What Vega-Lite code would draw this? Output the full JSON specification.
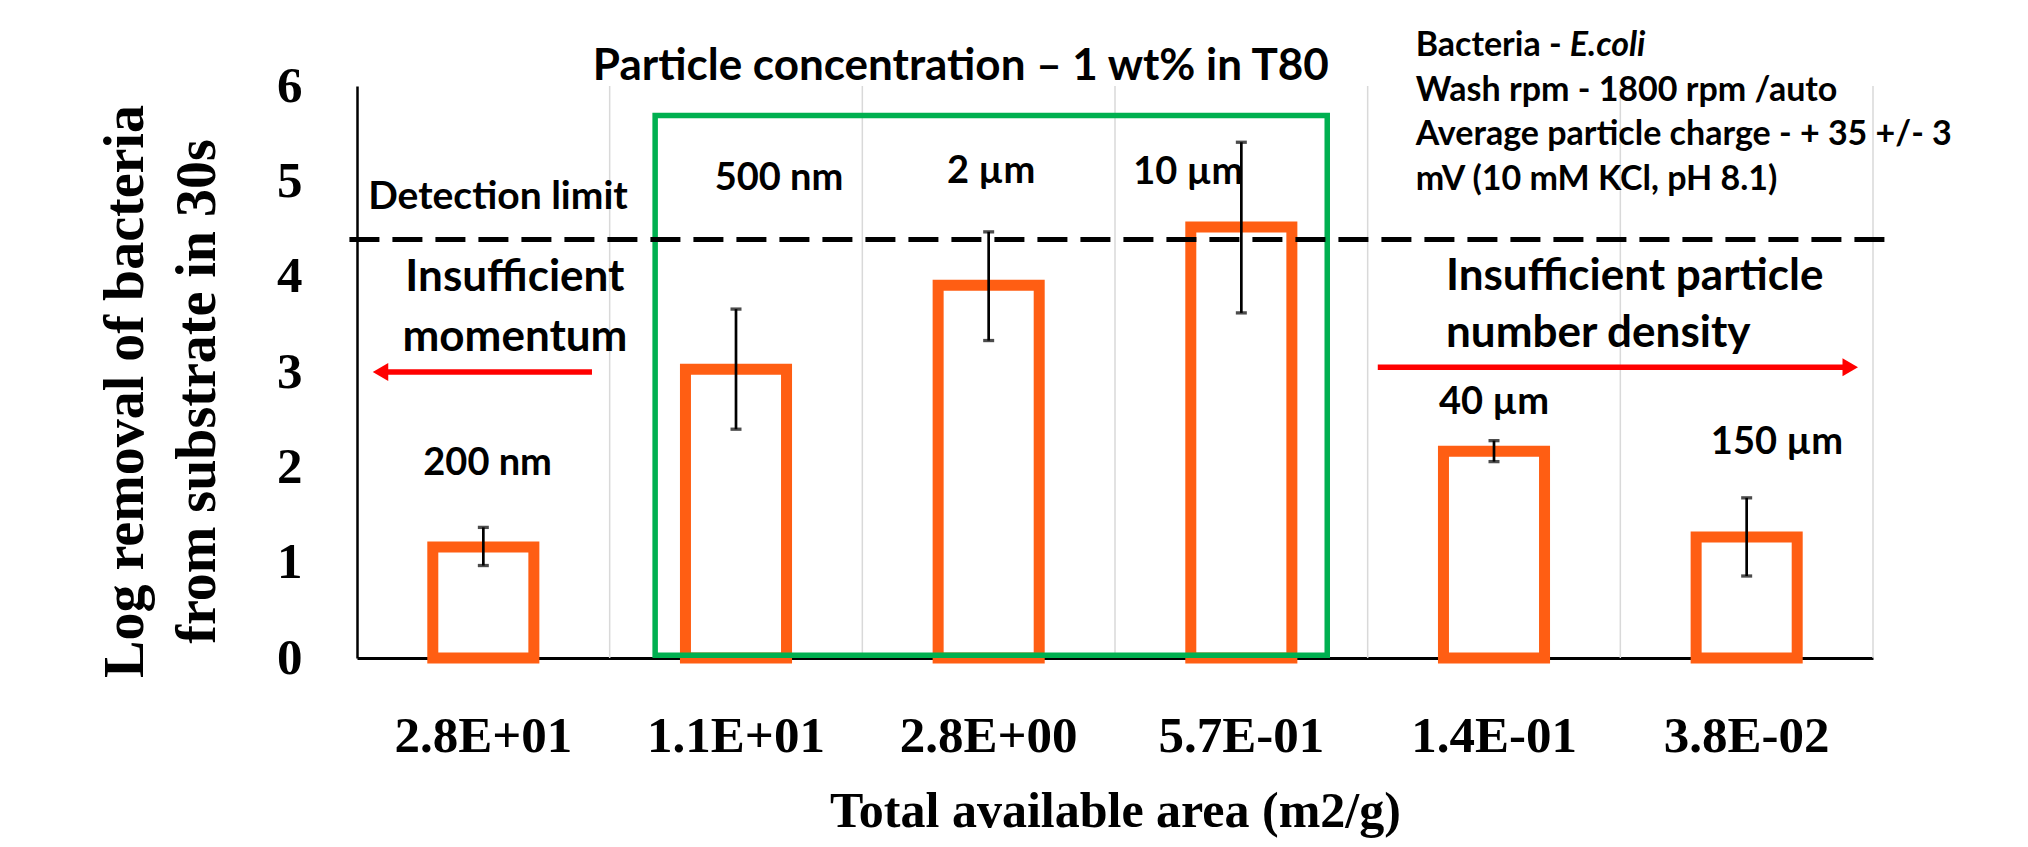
{
  "$schema": "https://vega.github.io/schema/vega-lite/v6.json",
  "width": 1516,
  "height": 572,
  "autosize": "none",
  "padding": {"left": 357, "top": 86, "right": 155, "bottom": 189},
  "background": "white",
  "config": {"view": {"stroke": null}, "font": "Lato"},
  "datasets": {
    "bars": [
      {"area": "2.8E+01", "removal": 1.165, "lo": 0.97, "hi": 1.37},
      {"area": "1.1E+01", "removal": 3.03, "lo": 2.40, "hi": 3.66},
      {"area": "2.8E+00", "removal": 3.91, "lo": 3.33, "hi": 4.47},
      {"area": "5.7E-01", "removal": 4.52, "lo": 3.62, "hi": 5.41},
      {"area": "1.4E-01", "removal": 2.17, "lo": 2.06, "hi": 2.28},
      {"area": "3.8E-02", "removal": 1.27, "lo": 0.86, "hi": 1.68}
    ],
    "grid": [{"g": 1}, {"g": 2}, {"g": 3}, {"g": 4}, {"g": 5}, {"g": 6}],
    "sizes": [
      {"label": "200 nm", "x": 0.517, "y": 2.03},
      {"label": "500 nm", "x": 1.67, "y": 5.02},
      {"label": "2 µm", "x": 2.51, "y": 5.10},
      {"label": "10 µm", "x": 3.29, "y": 5.09},
      {"label": "40 µm", "x": 4.50, "y": 2.68},
      {"label": "150 µm", "x": 5.62, "y": 2.26}
    ],
    "bigCentered": [
      {"label": "Particle concentration – 1 wt% in T80", "x": 2.39, "y": 6.20},
      {"label": "Insufficient", "x": 0.625, "y": 3.99},
      {"label": "momentum", "x": 0.625, "y": 3.36}
    ],
    "bigLeft": [
      {"label": "Insufficient particle", "x": 4.31, "y": 4.00},
      {"label": "number density", "x": 4.31, "y": 3.40}
    ],
    "detection": [{"label": "Detection limit", "x": 0.558, "y": 4.84}],
    "info": [
      {"label": "Bacteria -", "x": 4.19, "y": 6.42},
      {"label": "Wash rpm - 1800 rpm /auto", "x": 4.19, "y": 5.95},
      {"label": "Average particle charge - + 35 +/- 3", "x": 4.19, "y": 5.49},
      {"label": "mV (10 mM KCl, pH 8.1)", "x": 4.19, "y": 5.01}
    ],
    "infoItalic": [{"label": "E.coli", "x": 4.80, "y": 6.42}],
    "box": [{"x1": 1.18, "x2": 3.84, "y1": 0.03, "y2": 5.69}],
    "limit": [{"x1": -0.03, "x2": 6.09, "y": 4.39}],
    "shafts": [
      {"x1": 0.10, "x2": 0.93, "y": 3.00},
      {"x1": 4.04, "x2": 5.90, "y": 3.05}
    ],
    "headLeft": [{"x": 0.093, "y": 3.00}],
    "headRight": [{"x": 5.91, "y": 3.05}]
  },
  "layer": [
    {
      "data": {"name": "grid"},
      "mark": {"type": "rule", "color": "#D9D9D9", "strokeWidth": 1.5},
      "encoding": {
        "x": {"field": "g", "type": "quantitative", "scale": {"domain": [0, 6], "nice": false}, "axis": null}
      }
    },
    {
      "data": {"name": "bars"},
      "encoding": {
        "x": {
          "field": "area", "type": "nominal", "sort": null,
          "scale": {"paddingInner": 0, "paddingOuter": 0},
          "axis": {
            "orient": "bottom",
            "title": "Total available area (m2/g)",
            "labelFont": "Liberation Serif", "labelFontWeight": "bold", "labelFontSize": 51,
            "labelColor": "black", "labelAngle": 0, "labelBaseline": "middle", "labelPadding": 78,
            "ticks": false, "domainColor": "black", "domainWidth": 3, "grid": false,
            "titleFont": "Liberation Serif", "titleFontWeight": "bold", "titleFontSize": 50,
            "titleColor": "black", "titleBaseline": "middle", "titleY": 153
          }
        }
      },
      "layer": [
        {
          "mark": {"type": "bar", "width": {"band": 0.4}, "fill": "white", "stroke": "#FF5E13", "strokeWidth": 11},
          "encoding": {
            "y": {
              "field": "removal", "type": "quantitative",
              "scale": {"domain": [0, 6], "nice": false},
              "axis": {
                "orient": "left",
                "title": ["Log removal of bacteria", "from substrate in 30s"],
                "values": [0, 1, 2, 3, 4, 5, 6],
                "format": "d",
                "labelFont": "Liberation Serif", "labelFontWeight": "bold", "labelFontSize": 51,
                "labelColor": "black", "labelPadding": 55, "labelBaseline": "middle",
                "ticks": false, "domainColor": "black", "domainWidth": 2.5, "grid": false,
                "titleFont": "Liberation Serif", "titleFontWeight": "bold", "titleFontSize": 56,
                "titleColor": "black", "titleLineHeight": 72, "titleX": -232, "titleY": 305,
                "titleAngle": -90, "titleAlign": "center", "titleBaseline": "middle"
              }
            }
          }
        },
        {
          "mark": {"type": "rule", "color": "black", "strokeWidth": 2.7},
          "encoding": {
            "y": {"field": "lo", "type": "quantitative", "scale": {"domain": [0, 6], "nice": false}, "axis": null},
            "y2": {"field": "hi"}
          }
        },
        {
          "mark": {"type": "tick", "color": "black", "thickness": 3.3, "size": 11},
          "encoding": {
            "y": {"field": "lo", "type": "quantitative", "scale": {"domain": [0, 6], "nice": false}, "axis": null}
          }
        },
        {
          "mark": {"type": "tick", "color": "black", "thickness": 3.3, "size": 11},
          "encoding": {
            "y": {"field": "hi", "type": "quantitative", "scale": {"domain": [0, 6], "nice": false}, "axis": null}
          }
        }
      ],
      "resolve": {"scale": {"y": "independent"}}
    },
    {
      "layer": [
        {
          "data": {"name": "box"},
          "mark": {"type": "rect", "filled": false, "color": "#00B050", "strokeWidth": 5.5},
          "encoding": {
            "x": {"field": "x1", "type": "quantitative", "scale": {"domain": [0, 6], "nice": false}, "axis": null},
            "x2": {"field": "x2"},
            "y": {"field": "y1", "type": "quantitative", "scale": {"domain": [0, 6], "nice": false}, "axis": null},
            "y2": {"field": "y2"}
          }
        },
        {
          "data": {"name": "limit"},
          "mark": {"type": "rule", "color": "black", "strokeWidth": 5, "strokeDash": [30, 13]},
          "encoding": {
            "x": {"field": "x1", "type": "quantitative", "scale": {"domain": [0, 6], "nice": false}, "axis": null},
            "x2": {"field": "x2"},
            "y": {"field": "y", "type": "quantitative", "scale": {"domain": [0, 6], "nice": false}, "axis": null}
          }
        },
        {
          "data": {"name": "shafts"},
          "mark": {"type": "rule", "color": "#FF0000", "strokeWidth": 5.5},
          "encoding": {
            "x": {"field": "x1", "type": "quantitative", "scale": {"domain": [0, 6], "nice": false}, "axis": null},
            "x2": {"field": "x2"},
            "y": {"field": "y", "type": "quantitative", "scale": {"domain": [0, 6], "nice": false}, "axis": null}
          }
        },
        {
          "data": {"name": "headLeft"},
          "mark": {"type": "point", "shape": "triangle-left", "filled": true, "color": "#FF0000", "size": 320, "opacity": 1},
          "encoding": {
            "x": {"field": "x", "type": "quantitative", "scale": {"domain": [0, 6], "nice": false}, "axis": null},
            "y": {"field": "y", "type": "quantitative", "scale": {"domain": [0, 6], "nice": false}, "axis": null}
          }
        },
        {
          "data": {"name": "headRight"},
          "mark": {"type": "point", "shape": "triangle-right", "filled": true, "color": "#FF0000", "size": 320, "opacity": 1},
          "encoding": {
            "x": {"field": "x", "type": "quantitative", "scale": {"domain": [0, 6], "nice": false}, "axis": null},
            "y": {"field": "y", "type": "quantitative", "scale": {"domain": [0, 6], "nice": false}, "axis": null}
          }
        },
        {
          "data": {"name": "sizes"},
          "mark": {"type": "text", "font": "Lato", "fontWeight": "bold", "fontSize": 38, "color": "black", "align": "center", "baseline": "middle"},
          "encoding": {
            "x": {"field": "x", "type": "quantitative", "scale": {"domain": [0, 6], "nice": false}, "axis": null},
            "y": {"field": "y", "type": "quantitative", "scale": {"domain": [0, 6], "nice": false}, "axis": null},
            "text": {"field": "label"}
          }
        },
        {
          "data": {"name": "bigCentered"},
          "mark": {"type": "text", "font": "Lato", "fontWeight": "bold", "fontSize": 44, "color": "black", "align": "center", "baseline": "middle"},
          "encoding": {
            "x": {"field": "x", "type": "quantitative", "scale": {"domain": [0, 6], "nice": false}, "axis": null},
            "y": {"field": "y", "type": "quantitative", "scale": {"domain": [0, 6], "nice": false}, "axis": null},
            "text": {"field": "label"}
          }
        },
        {
          "data": {"name": "bigLeft"},
          "mark": {"type": "text", "font": "Lato", "fontWeight": "bold", "fontSize": 44, "color": "black", "align": "left", "baseline": "middle"},
          "encoding": {
            "x": {"field": "x", "type": "quantitative", "scale": {"domain": [0, 6], "nice": false}, "axis": null},
            "y": {"field": "y", "type": "quantitative", "scale": {"domain": [0, 6], "nice": false}, "axis": null},
            "text": {"field": "label"}
          }
        },
        {
          "data": {"name": "detection"},
          "mark": {"type": "text", "font": "Lato", "fontWeight": "bold", "fontSize": 39, "color": "black", "align": "center", "baseline": "middle"},
          "encoding": {
            "x": {"field": "x", "type": "quantitative", "scale": {"domain": [0, 6], "nice": false}, "axis": null},
            "y": {"field": "y", "type": "quantitative", "scale": {"domain": [0, 6], "nice": false}, "axis": null},
            "text": {"field": "label"}
          }
        },
        {
          "data": {"name": "info"},
          "mark": {"type": "text", "font": "Lato", "fontWeight": "bold", "fontSize": 34, "color": "black", "align": "left", "baseline": "middle"},
          "encoding": {
            "x": {"field": "x", "type": "quantitative", "scale": {"domain": [0, 6], "nice": false}, "axis": null},
            "y": {"field": "y", "type": "quantitative", "scale": {"domain": [0, 6], "nice": false}, "axis": null},
            "text": {"field": "label"}
          }
        },
        {
          "data": {"name": "infoItalic"},
          "mark": {"type": "text", "font": "Lato", "fontWeight": "bold", "fontStyle": "italic", "fontSize": 34, "color": "black", "align": "left", "baseline": "middle"},
          "encoding": {
            "x": {"field": "x", "type": "quantitative", "scale": {"domain": [0, 6], "nice": false}, "axis": null},
            "y": {"field": "y", "type": "quantitative", "scale": {"domain": [0, 6], "nice": false}, "axis": null},
            "text": {"field": "label"}
          }
        }
      ]
    }
  ],
  "resolve": {"scale": {"x": "independent", "y": "independent"}}
}
